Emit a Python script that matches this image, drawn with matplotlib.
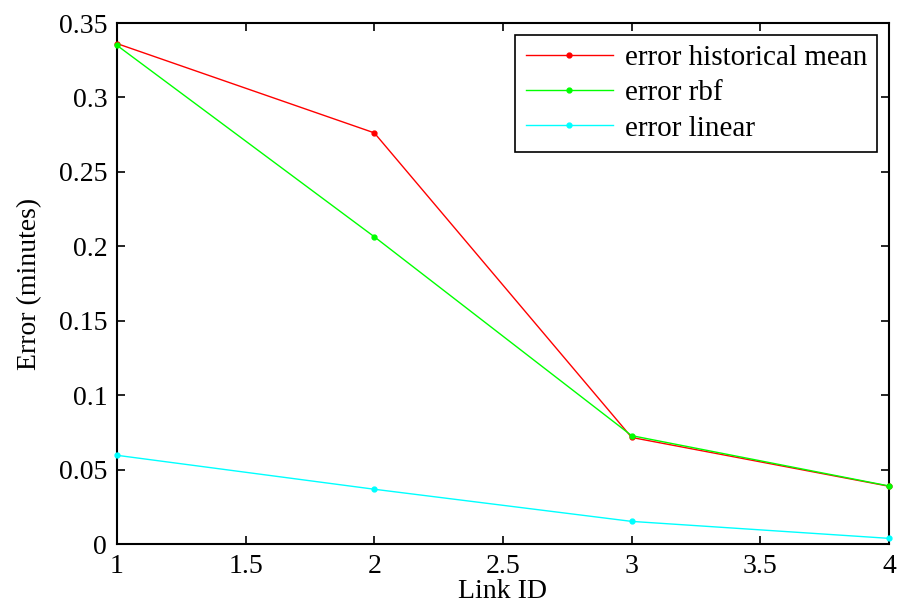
import matplotlib.pyplot as plt
import numpy as np

# link ids and errors
link_id = [1, 2, 3, 4]
err_hist_mean = [0.3362, 0.2762, 0.0716, 0.0388]
err_rbf = [0.3350, 0.2064, 0.0728, 0.0390]
err_linear = [0.0596, 0.0368, 0.0152, 0.0038]

plt.rcParams['font.family'] = ['Liberation Serif', 'DejaVu Serif']

fig = plt.figure(figsize=(8.99, 6.09), dpi=100)
ax = fig.add_axes([0.1301, 0.1067, 0.8588, 0.8555])

ax.plot(link_id, err_hist_mean, 'r.-', lw=1, ms=7, label='error historical mean', clip_on=False, zorder=3)
ax.plot(link_id, err_rbf, '.-', color='#00ff00', lw=1, ms=7, label='error rbf', clip_on=False, zorder=4)
ax.plot(link_id, err_linear, '.-', color='#00ffff', lw=1, ms=7, label='error linear', clip_on=False, zorder=3)

ax.set_xlim(1, 4)
ax.set_ylim(0, 0.35)
ax.set_xticks(np.arange(1, 4.01, 0.5))
ax.set_xticklabels(['1', '1.5', '2', '2.5', '3', '3.5', '4'])
ax.set_yticks(np.arange(0, 0.351, 0.05))
ax.set_yticklabels(['0', '0.05', '0.1', '0.15', '0.2', '0.25', '0.3', '0.35'])
ax.tick_params(direction='in', top=True, right=True, length=6, width=1.2,
               labelsize=20, pad=7)
for s in ax.spines.values():
    s.set_linewidth(1.5)

ax.set_xlabel('Link ID', fontsize=20, labelpad=0)
ax.set_ylabel('Error (minutes)', fontsize=20, labelpad=12)

leg = ax.legend(loc='upper right', fontsize=21, fancybox=False, framealpha=1,
                edgecolor='black', borderpad=0.35, labelspacing=0.3,
                handlelength=3.0, handletextpad=0.4, borderaxespad=0.4)
leg.get_frame().set_linewidth(1.2)

fig.savefig('out.png', dpi=100)
